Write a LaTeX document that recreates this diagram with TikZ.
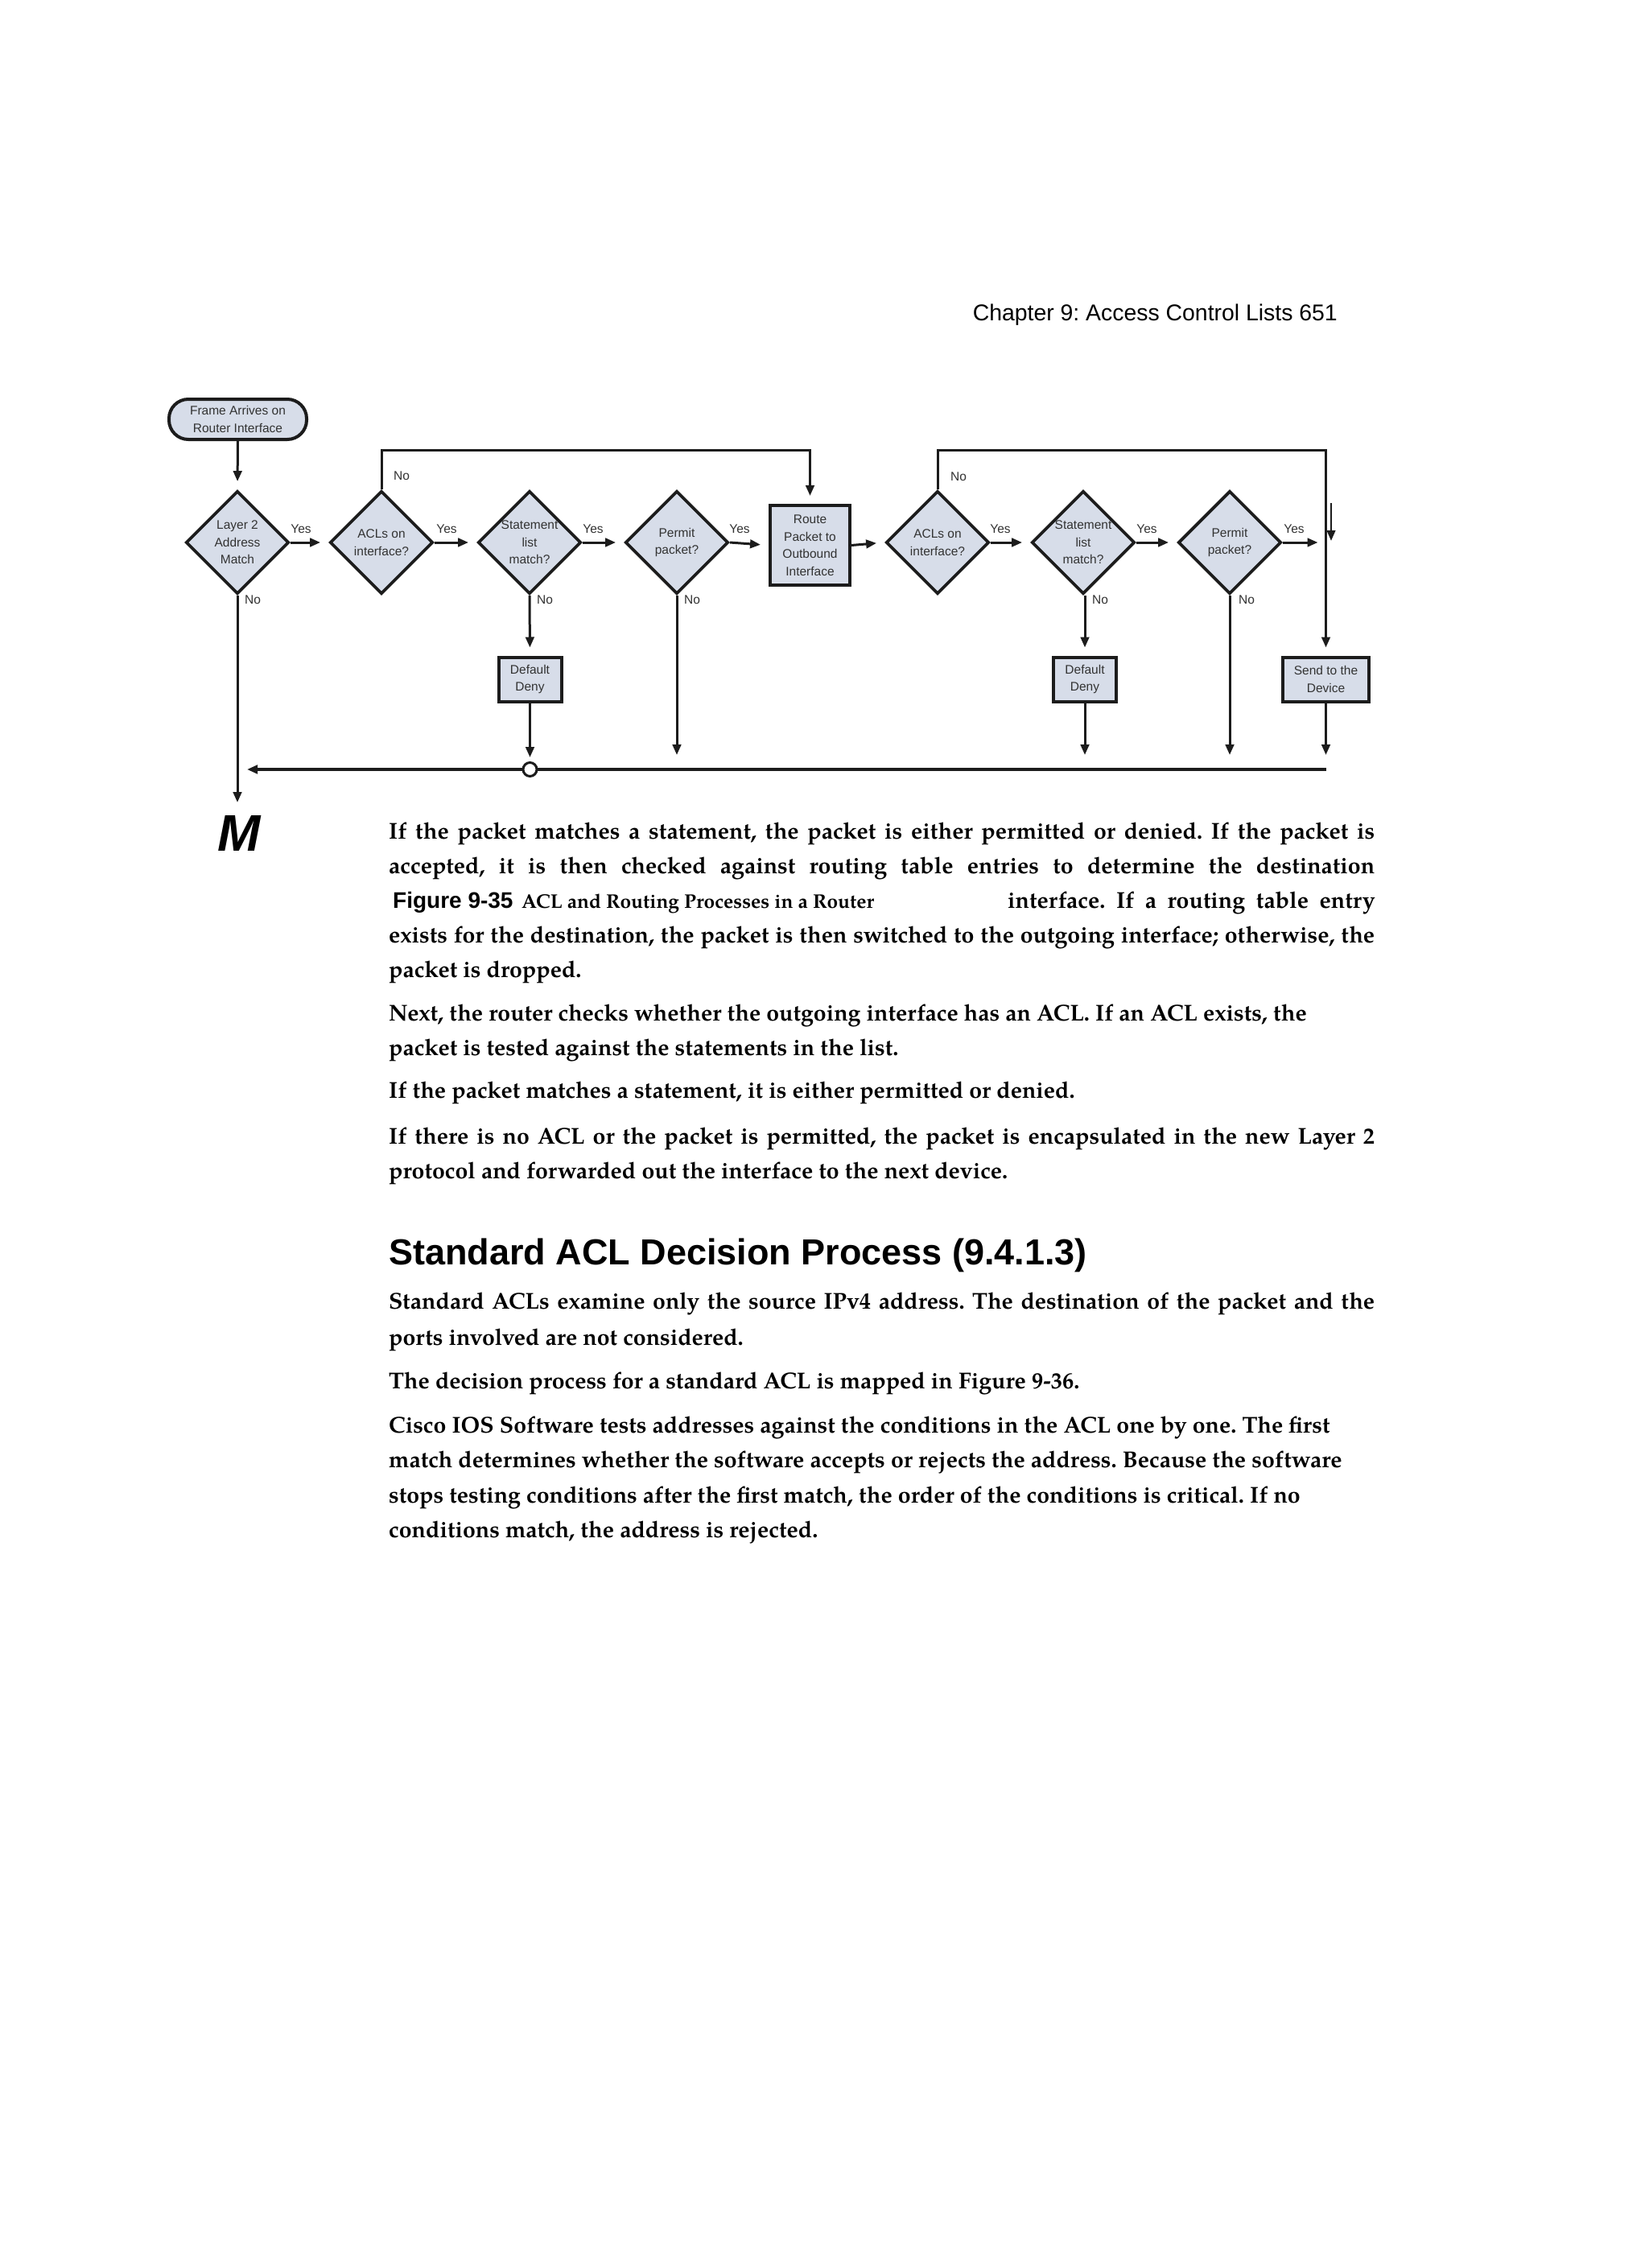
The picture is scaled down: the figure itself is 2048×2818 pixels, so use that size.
\documentclass[tikz,border=0pt]{standalone}
\usepackage{fontspec}
\setmainfont{Liberation Sans}
\newfontfamily\bodyfont{texgyrepagella-bold.otf}
\newfontfamily\hdsans{Liberation Sans}
\usetikzlibrary{shapes.geometric,arrows.meta}
\definecolor{boxfill}{RGB}{215,221,233}
\definecolor{ink}{RGB}{28,28,28}
\newcommand{\jline}[1]{\makebox[1225pt][s]{#1}}
\frenchspacing
\begin{document}
\begin{tikzpicture}[x=1pt,y=-1pt,
  dia/.style={diamond, aspect=1, minimum width=128pt, minimum height=128pt, inner sep=0pt, draw=ink, line width=3.8pt, fill=boxfill},
  rbox/.style={rectangle, draw=ink, line width=4pt, fill=boxfill, inner sep=0pt},
  lab/.style={font=\fontsize{15.5}{21.5}\selectfont, text=ink!90, align=center, inner sep=0pt},
  yn/.style={font=\fontsize{15.5}{18}\selectfont, text=ink!90, inner sep=0pt},
  con/.style={draw=ink, line width=3pt},
  tip/.style={-{Triangle[length=13pt,width=10.5pt]}},
  arr/.style={con, tip, shorten >=10pt},
  body/.style={anchor=base west, inner sep=0pt, font=\bodyfont\fontsize{28.5}{43}\selectfont},
]
\fill[white] (0,0) rectangle (2048,2818);
\useasboundingbox (0,0) rectangle (2048,2818);

% header
\node[anchor=base east, inner sep=0pt, font=\hdsans\fontsize{28.4}{34}\selectfont] (hdr) at (1662,398) {Chapter 9: Access Control Lists 651};

% ---------- flowchart ----------
\node[rbox, lab, minimum width=171pt, minimum height=50pt, rounded corners=24pt] (start) at (295.5,521) {Frame Arrives on\\Router Interface};

\node[dia, label={[lab]center:{Layer 2\\Address\\Match}}] (d1) at (295,674) {};
\node[dia, label={[lab]center:{ACLs on\\interface?}}] (d2) at (474,674) {};
\node[dia, label={[lab]center:{Statement\\list\\match?}}] (d3) at (658,674) {};
\node[dia, label={[lab]center:{Permit\\packet?}}] (d4) at (841,674) {};
\node[rbox, lab, minimum width=99pt, minimum height=99pt] (route) at (1006.5,677.5) {Route\\Packet to\\Outbound\\Interface};
\node[dia, label={[lab]center:{ACLs on\\interface?}}] (d5) at (1165,674) {};
\node[dia, label={[lab]center:{Statement\\list\\match?}}] (d6) at (1346,674) {};
\node[dia, label={[lab]center:{Permit\\packet?}}] (d7) at (1528,674) {};

\node[rbox, lab, minimum width=78pt, minimum height=55pt] (dd1) at (658.5,844) {Default\\Deny};
\node[rbox, lab, minimum width=78pt, minimum height=55pt] (dd2) at (1348,844) {Default\\Deny};
\node[rbox, lab, minimum width=107pt, minimum height=55pt] (send) at (1647.5,844) {Send to the\\Device};

\coordinate (loopy) at (0,559);
\coordinate (bl) at (0,956);
\coordinate (ae) at (0,938);
\coordinate (mend) at (0,997);
\coordinate (sa1) at (1654,625);
\coordinate (sa2) at (1654,672);

% arrows
\draw[arr] (start.south) -- (d1.north);
\draw[arr] (d1.east) -- (d2.west);
\draw[arr] (d2.east) -- (d3.west);
\draw[arr] (d3.east) -- (d4.west);
\draw[arr] (d4.east) -- (route.west);
\draw[arr] (route.east) -- (d5.west);
\draw[arr] (d5.east) -- (d6.west);
\draw[arr] (d6.east) -- (d7.west);
\draw[arr] (d7.east) -- (d7.east -| send.north);

\draw[arr] (d2.north) -- (d2.north |- loopy) -| (route.north);
\draw[arr] (d5.north) -- (d5.north |- loopy) -| (send.north);
\draw[con, line width=2.5pt, tip] (sa1) -- (sa2);

\draw[arr] (d3.south) -- (dd1.north);
\draw[arr] (d6.south -| dd2.north) -- (dd2.north);
\draw[arr, shorten >=0pt] (d4.south) -- (d4.south |- ae);
\draw[arr, shorten >=0pt] (dd2.south) -- (dd2.south |- ae);
\draw[arr, shorten >=0pt] (d7.south) -- (d7.south |- ae);
\draw[arr, shorten >=0pt] (send.south) -- (send.south |- ae);
\draw[arr, shorten >=0pt] (d1.south) -- (d1.south |- mend);
\draw[con, line width=4pt, tip, shorten >=12pt] (send.south |- bl) -- (d1.south |- bl);
\node[circle, draw=ink, line width=3pt, fill=white, minimum size=17pt, inner sep=0pt] (circ) at (658.5,956) {};
\draw[arr, shorten >=5pt] (dd1.south) -- (circ.north);

% yes / no labels
\node[yn] (y1) at (374,657) {Yes};
\node[yn] (y2) at (555,657) {Yes};
\node[yn] (y3) at (737,657) {Yes};
\node[yn] (y4) at (919,657) {Yes};
\node[yn] (y5) at (1243,657) {Yes};
\node[yn] (y6) at (1425,657) {Yes};
\node[yn] (y7) at (1608,657) {Yes};
\node[yn] (n1) at (314,745) {No};
\node[yn] (n2) at (499,591) {No};
\node[yn] (n3) at (677,745) {No};
\node[yn] (n4) at (860,745) {No};
\node[yn] (n5) at (1191,592) {No};
\node[yn] (n6) at (1367,745) {No};
\node[yn] (n7) at (1549,745) {No};

% ---------- text ----------
\node[anchor=base west, inner sep=0pt, font=\hdsans\bfseries\itshape\fontsize{64}{70}\selectfont] (mm) at (270,1057) {M};

\node[body] (l1) at (483,1042) {\jline{If the packet matches a statement, the packet is either permitted or denied. If the packet is}};
\node[body] (l2) at (483,1085) {\jline{accepted, it is then checked against routing table entries to determine the destination}};
\node[anchor=base west, inner sep=0pt, font=\hdsans\bfseries\fontsize{28}{34}\selectfont] (fig) at (488,1128) {Figure 9-35};
\node[anchor=base west, inner sep=0pt, font=\bodyfont\fontsize{24.5}{30}\selectfont] (cap) at (648,1128) {ACL and Routing Processes in a Router};
\node[body] (l3) at (1252,1128) {\makebox[456.5pt][s]{interface. If a routing table entry}};
\node[body] (l4) at (483,1171) {\jline{exists for the destination, the packet is then switched to the outgoing interface; otherwise, the}};
\node[body] (l5) at (483,1214) {packet is dropped.};

\node[body] (p2a) at (483,1268) {Next, the router checks whether the outgoing interface has an ACL. If an ACL exists, the};
\node[body] (p2b) at (483,1311) {packet is tested against the statements in the list.};
\node[body] (p3) at (483,1364) {If the packet matches a statement, it is either permitted or denied.};
\node[body] (p4a) at (483,1421) {\jline{If there is no ACL or the packet is permitted, the packet is encapsulated in the new Layer 2}};
\node[body] (p4b) at (483,1464) {protocol and forwarded out the interface to the next device.};

\node[anchor=base west, inner sep=0pt, font=\hdsans\bfseries\fontsize{45}{50}\selectfont] (head) at (483,1571) {Standard ACL Decision Process (9.4.1.3)};

\node[body] (p5a) at (483,1626) {\jline{Standard ACLs examine only the source IPv4 address. The destination of the packet and the}};
\node[body] (p5b) at (483,1671) {ports involved are not considered.};
\node[body] (p6) at (483,1725) {The decision process for a standard ACL is mapped in Figure 9-36.};
\node[body] (p7a) at (483,1780) {Cisco IOS Software tests addresses against the conditions in the ACL one by one. The first};
\node[body] (p7b) at (483,1823) {match determines whether the software accepts or rejects the address. Because the software};
\node[body] (p7c) at (483,1867) {stops testing conditions after the first match, the order of the conditions is critical. If no};
\node[body] (p7d) at (483,1910) {conditions match, the address is rejected.};
\end{tikzpicture}
\end{document}
